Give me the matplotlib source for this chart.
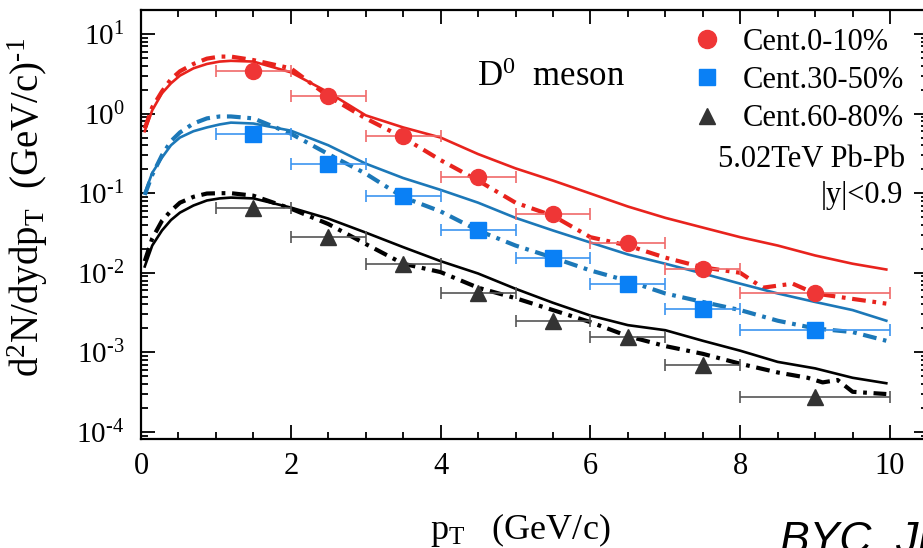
import matplotlib
matplotlib.use('Agg')
import matplotlib.pyplot as plt
from matplotlib.ticker import FixedLocator, FixedFormatter, MultipleLocator, LogLocator, NullFormatter
from matplotlib.lines import Line2D

plt.rcParams['font.family'] = ['Liberation Serif', 'DejaVu Serif']
plt.rcParams['mathtext.fontset'] = 'custom'
plt.rcParams['mathtext.rm'] = 'Liberation Serif'
plt.rcParams['mathtext.it'] = 'Liberation Serif:italic'

# data points (D0 meson spectra)
pt = [1.5, 2.5, 3.5, 4.5, 5.5, 6.5, 7.5, 9.0]
pt_lo = [0.5, 0.5, 0.5, 0.5, 0.5, 0.5, 0.5, 1.0]
pt_hi = [0.5, 0.5, 0.5, 0.5, 0.5, 0.5, 0.5, 1.0]
cent0_10 = [3.47, 1.64, 0.53, 0.16, 0.054, 0.024, 0.011, 0.0056]
cent30_50 = [0.56, 0.23, 0.091, 0.034, 0.0155, 0.0073, 0.0035, 0.0019]
cent60_80 = [0.066, 0.028, 0.013, 0.0056, 0.0025, 0.00154, 0.0007, 0.000277]

# model curves
x_curve = [0.05, 0.15, 0.28, 0.4, 0.52, 0.7, 0.88, 1.05, 1.2, 1.5, 2.0, 2.5, 3.0, 3.5,
           4.0, 4.5, 5.0, 5.5, 6.0, 6.5, 7.0, 7.5, 8.0, 8.5, 9.0, 9.5, 9.95]
red_solid = [0.60, 1.1, 1.8, 2.4, 3.0, 3.7, 4.2, 4.5, 4.6, 4.5, 3.3, 1.85, 0.95, 0.67,
             0.50, 0.31, 0.205, 0.144, 0.099, 0.068, 0.049, 0.037, 0.028, 0.022, 0.0165, 0.013, 0.011]
blue_solid = [0.10, 0.18, 0.28, 0.40, 0.50, 0.60, 0.67, 0.73, 0.77, 0.75, 0.61, 0.40, 0.235, 0.155,
              0.11, 0.076, 0.049, 0.034, 0.024, 0.017, 0.013, 0.0098, 0.0073, 0.0055, 0.0043, 0.0034, 0.0025]
black_solid = [0.012, 0.022, 0.034, 0.046, 0.057, 0.070, 0.081, 0.086, 0.088, 0.086, 0.066, 0.048, 0.032, 0.021,
               0.014, 0.0098, 0.0063, 0.0042, 0.0029, 0.0022, 0.0019, 0.0014, 0.00105, 0.00076, 0.00063, 0.00048, 0.00041]

x_red_dd = [0.05, 0.15, 0.28, 0.4, 0.52, 0.7, 0.88, 1.05, 1.2, 1.5, 2.0, 2.5, 3.0, 3.5, 4.0, 4.5,
            5.0, 5.5, 6.0, 6.5, 7.0, 7.5, 8.0, 8.3, 8.7, 9.0, 9.5, 9.95]
red_dd = [0.65, 1.2, 1.9, 2.7, 3.4, 4.2, 4.9, 5.2, 5.2, 4.7, 3.7, 1.65, 0.87, 0.50, 0.26, 0.144,
          0.076, 0.052, 0.028, 0.022, 0.0155, 0.0117, 0.010, 0.0065, 0.0073, 0.0055, 0.0047, 0.0041]
x_blue_dd = [0.05, 0.15, 0.28, 0.4, 0.52, 0.7, 0.88, 1.05, 1.2, 1.5, 2.0, 2.5, 3.0, 3.5, 4.0, 4.5,
             5.0, 5.5, 6.0, 6.5, 7.0, 7.5, 8.0, 8.5, 9.0, 9.5, 9.95]
blue_dd = [0.095, 0.17, 0.30, 0.45, 0.58, 0.75, 0.87, 0.92, 0.92, 0.87, 0.56, 0.31, 0.176, 0.089, 0.059, 0.034,
           0.022, 0.0155, 0.0107, 0.0079, 0.0055, 0.0043, 0.0034, 0.0025, 0.0020, 0.0018, 0.0014]
x_black_dd = [0.05, 0.15, 0.28, 0.4, 0.52, 0.7, 0.88, 1.05, 1.2, 1.5, 2.0, 2.5, 3.0, 3.5, 4.0, 4.5,
              5.0, 5.5, 6.0, 6.5, 7.0, 7.5, 8.0, 8.5, 8.9, 9.1, 9.3, 9.5, 9.95]
black_dd = [0.014, 0.027, 0.045, 0.060, 0.076, 0.090, 0.099, 0.10, 0.10, 0.093, 0.064, 0.041, 0.023, 0.013, 0.0102, 0.0065,
            0.0048, 0.0034, 0.0024, 0.0016, 0.0012, 0.00096, 0.00072, 0.00056, 0.00048, 0.00042, 0.00045, 0.00032, 0.0003]

ytick_vals = [1e-4, 1e-3, 1e-2, 1e-1, 1e0, 1e1]
ytick_labels = [r'$10^{\text{-}4}$', r'$10^{\text{-}3}$', r'$10^{\text{-}2}$',
                r'$10^{\text{-}1}$', r'$10^{0}$', r'$10^{1}$']

c_red, c_blue, c_black = '#e8231d', '#1c78b8', '#000000'
m_red, m_blue, m_black = '#ef3636', '#0a80f5', '#333333'
e_red, e_blue, e_black = '#f06a6a', '#3c95f0', '#555555'

fig = plt.figure(figsize=(9.23, 5.48), dpi=100)
ax = fig.add_axes([141/923, 109/548, 786.5/923, 429/548])
ax.set_yscale('log')

dd = (3.3, 1.6, 0.9, 1.6)
ax.plot(x_curve, red_solid, color=c_red, lw=1.9)
ax.plot(x_red_dd, red_dd, color=c_red, lw=3, dashes=dd)
ax.plot(x_curve, blue_solid, color=c_blue, lw=1.9)
ax.plot(x_blue_dd, blue_dd, color=c_blue, lw=3, dashes=dd)
ax.plot(x_curve, black_solid, color=c_black, lw=1.9)
ax.plot(x_black_dd, black_dd, color=c_black, lw=3, dashes=dd)

ax.errorbar(pt, cent0_10, xerr=[pt_lo, pt_hi], fmt='o', color=m_red, ecolor=e_red,
            ms=11.5, elinewidth=1.2, capsize=4.5, capthick=1.2, zorder=5)
ax.errorbar(pt, cent30_50, xerr=[pt_lo, pt_hi], fmt='s', color=m_blue, ecolor=e_blue,
            ms=11, elinewidth=1.2, capsize=4.5, capthick=1.2, zorder=5)
ax.errorbar(pt, cent60_80, xerr=[pt_lo, pt_hi], fmt='^', color=m_black, ecolor=e_black,
            ms=11, elinewidth=1.2, capsize=4.5, capthick=1.2, zorder=5)

ax.set_xlim(0, 10.5)
ax.set_ylim(8.17e-5, 20.0)

ax.xaxis.set_major_locator(MultipleLocator(2))
ax.xaxis.set_minor_locator(MultipleLocator(0.5))
ax.yaxis.set_major_locator(FixedLocator(ytick_vals))
ax.yaxis.set_major_formatter(FixedFormatter(ytick_labels))
ax.yaxis.set_minor_locator(LogLocator(base=10, subs=range(2, 10), numticks=20))
ax.yaxis.set_minor_formatter(NullFormatter())
ax.tick_params(which='both', direction='in', top=True, right=True, width=1.3)
ax.tick_params(which='major', length=10)
ax.tick_params(which='minor', length=5)
ax.tick_params(axis='x', which='major', labelsize=22, pad=9)
ax.tick_params(axis='y', which='major', labelsize=21, pad=12)
for s in ax.spines.values():
    s.set_linewidth(1.6)

fig.text(520/923, 1 - 530/548, r'p$_{\mathrm{T}}$   (GeV/c)', fontsize=26, ha='center', va='center')
fig.text(28/923, 1 - 207/548, r'd$^{2}$N/dydp$_{\mathrm{T}}$  (GeV/c)$^{\text{-}1}$', fontsize=28,
         rotation=90, ha='center', va='center')

fig.text(477/923, 1 - 86/548, r'D$^{0}$  meson', fontsize=25)
fig.text(905/923, 1 - 167/548, '5.02TeV Pb-Pb', fontsize=22, ha='right')
fig.text(903/923, 1 - 203/548, '|y|<0.9', fontsize=22, ha='right')
fig.text(780/923, 1 - 553/548, 'BYC, Ji', fontsize=32, style='italic',
         family='Liberation Sans')

handles = [Line2D([], [], ls='none', marker='o', color=m_red, ms=13),
           Line2D([], [], ls='none', marker='s', color=m_blue, ms=11.5),
           Line2D([], [], ls='none', marker='^', color=m_black, ms=12)]
ax.legend(handles, ['Cent.0-10%', 'Cent.30-50%', 'Cent.60-80%'], loc='upper left',
          bbox_to_anchor=(692/923, 1 - 28/548), bbox_transform=fig.transFigure,
          frameon=False, fontsize=22, handlelength=1.0, handletextpad=0.65,
          labelspacing=0.3, borderpad=0, borderaxespad=0)

fig.savefig('out.png', dpi=100)
